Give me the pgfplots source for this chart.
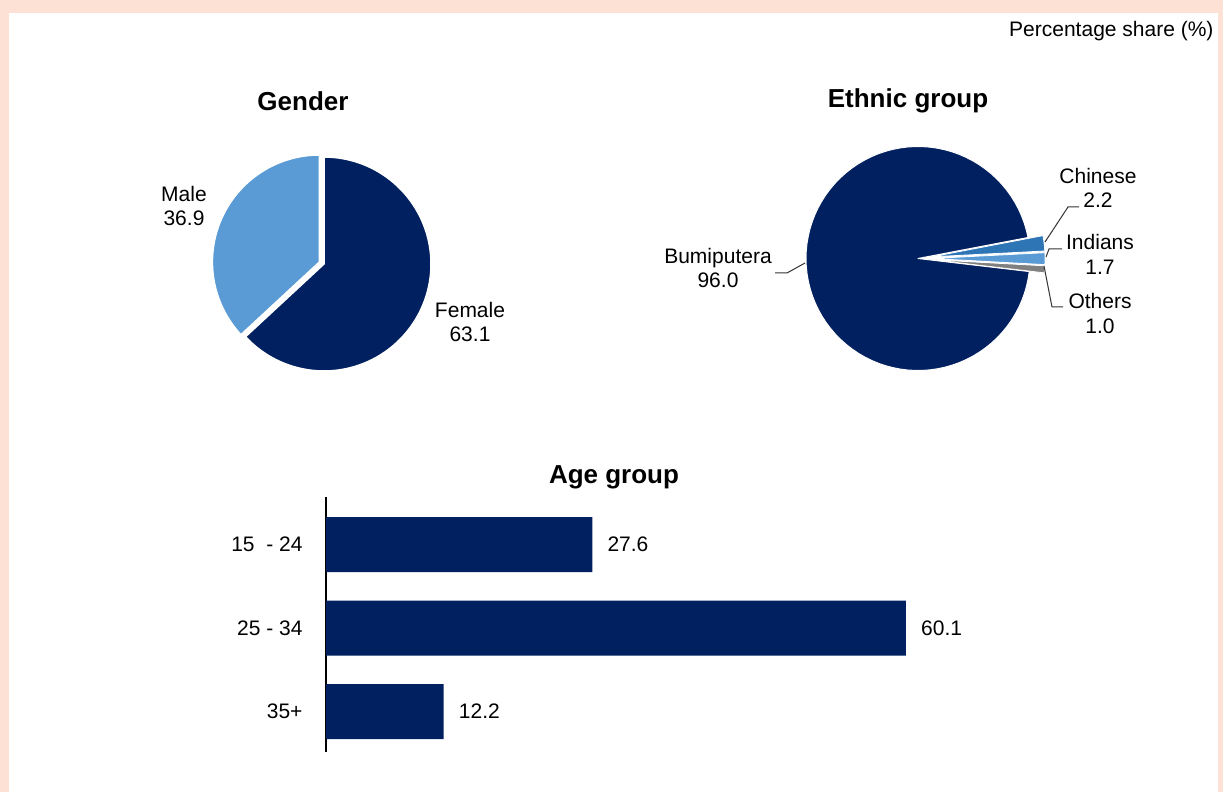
\documentclass[border=0pt]{standalone}
\usepackage{fontspec}
\setmainfont{Liberation Sans}
\usepackage{pgfplots}
\usepackage{pgfplotstable}
\pgfplotsset{compat=1.18}

\definecolor{navy}{RGB}{0,32,96}
\definecolor{lblue}{RGB}{91,155,213}
\definecolor{mblue}{RGB}{46,117,182}
\definecolor{ogray}{RGB}{128,128,128}
\definecolor{peach}{RGB}{253,225,213}

\newcommand\lab{\fontsize{21}{24.5}\selectfont}
\newcommand\ttl{\fontsize{26}{30}\selectfont\bfseries}

\pgfplotstableread{
label value
Female 63.1
Male 36.9
}\gendertable

\pgfplotstableread{
label value
Bumiputera 96.0
Chinese 2.2
Indians 1.7
Others 1.0
}\ethnictable

\pgfplotstableread{
y value
0 27.6
1 60.1
2 12.2
}\agetable

% slice: color, start angle, end angle, radius, dx, dy, border width
\newcommand{\slice}[7]{%
  \addplot[draw=white, line width=#7, line join=round, fill=#1,
    domain=#2:#3, samples=90, variable=\t]
    ({#5+#4*cos(\t)},{#6+#4*sin(\t)}) -- (axis cs:#5,#6) -- cycle;
}

\begin{document}
\begin{tikzpicture}
\useasboundingbox (0,0) rectangle (1223pt,792pt);
\fill[peach] (0,0) rectangle (1223pt,792pt);
\fill[white] (9pt,0) rectangle (1218pt,779pt);

% ---- angles from the tables
\pgfplotstablegetelem{0}{value}\of\gendertable \let\vF\pgfplotsretval
\pgfplotstablegetelem{1}{value}\of\gendertable \let\vM\pgfplotsretval
\pgfmathsetmacro\aF{90-3.6*\vF}
\pgfmathsetmacro\aM{90+3.6*\vM}
\pgfmathsetmacro\bM{(90+\aM)/2}
\pgfmathsetmacro\mx{5*cos(\bM)}
\pgfmathsetmacro\my{5*sin(\bM)}

\pgfplotstablegetelem{0}{value}\of\ethnictable \let\vB\pgfplotsretval
\pgfplotstablegetelem{1}{value}\of\ethnictable \let\vC\pgfplotsretval
\pgfplotstablegetelem{2}{value}\of\ethnictable \let\vI\pgfplotsretval
\pgfplotstablegetelem{3}{value}\of\ethnictable \let\vO\pgfplotsretval
\pgfmathsetmacro\etot{\vB+\vC+\vI+\vO}
\pgfmathsetmacro\kk{360/\etot}
\def\estart{10.8}
\pgfmathsetmacro\aC{\estart-\kk*\vC}
\pgfmathsetmacro\aI{\aC-\kk*\vI}
\pgfmathsetmacro\aO{\aI-\kk*\vO}
\pgfmathsetmacro\aB{\estart+\kk*\vB}
\pgfmathsetmacro\cxC{14*cos((\estart+\aC)/2)}
\pgfmathsetmacro\cyC{14*sin((\estart+\aC)/2)}
\pgfmathsetmacro\cxI{14*cos((\aC+\aI)/2)}
\pgfmathsetmacro\cyI{14*sin((\aC+\aI)/2)}
\pgfmathsetmacro\cxO{14*cos((\aI+\aO)/2)}
\pgfmathsetmacro\cyO{14*sin((\aI+\aO)/2)}

% ---- titles
\node[anchor=east, font=\lab] at (1217pt,761pt) {Percentage share (\%)};
\node[font=\ttl] at (303pt,691pt) {Gender};
\node[font=\ttl] at (908pt,691pt) {Ethnic group};
\node[font=\ttl] at (614pt,315pt) {Age group};

% ---- Gender pie
\begin{axis}[at={(324pt,528pt)}, anchor=center, x=1pt, y=1pt,
  xmin=-150, xmax=150, ymin=-150, ymax=150, hide axis, clip=false]
\slice{navy}{\aF}{90}{107}{0}{0}{1.5pt}
\slice{lblue}{90}{\aM}{107}{\mx}{\my}{1.5pt}
\node[font=\lab, align=center] at (axis cs:-140,58) {Male\\36.9};
\node[font=\lab, align=center] at (axis cs:146,-58) {Female\\63.1};
\end{axis}

% ---- Ethnic pie
\begin{axis}[at={(918pt,533.5pt)}, anchor=center, x=1pt, y=1pt,
  xmin=-150, xmax=150, ymin=-150, ymax=150, hide axis, clip=false]
\slice{navy}{\estart}{\aB}{112}{0}{0}{1pt}
\slice{mblue}{\aC}{\estart}{113}{\cxC}{\cyC}{0.8pt}
\slice{lblue}{\aI}{\aC}{113}{\cxI}{\cyI}{0.8pt}
\slice{ogray}{\aO}{\aI}{113}{\cxO}{\cyO}{0.8pt}
\draw[black!80, line width=1pt] (axis cs:-143,-14.5) -- (axis cs:-131,-14.5) -- (axis cs:-113,-4.5);
\draw[black!80, line width=1pt] (axis cs:127,16.5) -- (axis cs:150,51.5) -- (axis cs:161,51.5);
\draw[black!80, line width=1pt] (axis cs:128,1.5) -- (axis cs:131,9.5) -- (axis cs:144,9.5);
\draw[black!80, line width=1pt] (axis cs:126,-7.5) -- (axis cs:134,-48.5) -- (axis cs:145,-48.5);
\node[font=\lab, align=center] at (axis cs:-200,-9.5) {Bumiputera\\96.0};
\node[font=\lab, align=center] at (axis cs:180,70.5) {Chinese\\2.2};
\node[font=\lab, align=center] at (axis cs:182,4) {Indians\\1.7};
\node[font=\lab, align=center] at (axis cs:182,-55) {Others\\1.0};
\end{axis}

% ---- Age group bars
\begin{axis}[at={(326pt,295pt)}, anchor=north west,
  xbar, x=9.65pt, y=83.5pt, xmin=0, xmax=70,
  ymin=-0.57, ymax=2.48, y dir=reverse,
  axis x line=none, axis y line*=left,
  axis line style={black, line width=1.2pt},
  ytick={0,1,2}, yticklabels={{15\ \ - 24},{25 - 34},{35+}},
  major tick length=0pt,
  yticklabel style={font=\lab, anchor=east, xshift=-20pt},
  bar width=55pt, clip=false,
  /pgf/number format/.cd, fixed, fixed zerofill, precision=1, assume math mode=true,
  /pgfplots/.cd,
  nodes near coords,
  nodes near coords style={font=\lab, anchor=west, inner sep=0pt, xshift=15pt, black},
]
\addplot[fill=navy, draw=none] table[x=value, y=y] {\agetable};
\end{axis}
\end{tikzpicture}
\end{document}
